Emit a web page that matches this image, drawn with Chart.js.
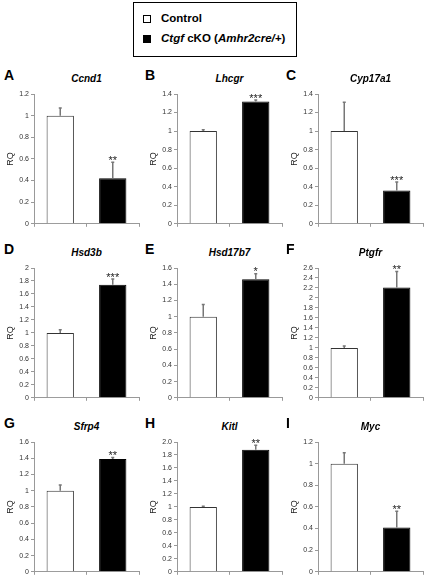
<!DOCTYPE html>
<html>
<head>
<meta charset="utf-8">
<script src="https://cdn.jsdelivr.net/npm/chart.js@4/dist/chart.umd.min.js"></script>
<style>
  html, body { margin: 0; padding: 0; background: #fff; }
  #wrap { position: relative; width: 427px; height: 579px; overflow: hidden; font-family: "Liberation Sans", Arial, sans-serif; }
  canvas { position: absolute; }
  .letter { position: absolute; font: bold 14px "Liberation Sans", Arial, sans-serif; color: #000; line-height: 16px; }
  .gene { position: absolute; font: italic bold 10px "Liberation Sans", Arial, sans-serif; color: #000; line-height: 12px; width: 105px; text-align: center; }
  #legend { position: absolute; left: 133px; top: 2px; width: 162px; height: 53px; border: 1.5px solid #000; }
  .li { position: absolute; left: 9px; font: bold 11.5px "Liberation Sans", Arial, sans-serif; line-height: 13px; white-space: nowrap; }
  .sw { display: inline-block; width: 8px; height: 8px; border: 1px solid #000; vertical-align: -1px; margin-right: 10px; box-sizing: border-box; }
</style>
</head>
<body>
<div id="wrap">
  <div id="legend">
    <div class="li" style="top:9px"><span class="sw" style="background:#fff"></span>Control</div>
    <div class="li" style="top:29px"><span class="sw" style="background:#000"></span><i>Ctgf</i> cKO (<i>Amhr2cre/+</i>)</div>
  </div>
</div>
<script>
// ---- data ----
const panelLetters = ['A', 'B', 'C', 'D', 'E', 'F', 'G', 'H', 'I'];
const genes = ['Ccnd1', 'Lhcgr', 'Cyp17a1', 'Hsd3b', 'Hsd17b7', 'Ptgfr', 'Sfrp4', 'Kitl', 'Myc'];
const categories = ['Control', 'Ctgf cKO (Amhr2cre/+)'];
const controlRQ = [1.0, 1.0, 1.0, 1.0, 1.0, 1.0, 1.0, 1.0, 1.0];
const controlErr = [0.07, 0.015, 0.31, 0.05, 0.15, 0.04, 0.07, 0.01, 0.10];
const ckoRQ = [0.42, 1.32, 0.36, 1.74, 1.46, 2.21, 1.39, 1.88, 0.41];
const ckoErr = [0.15, 0.015, 0.09, 0.09, 0.07, 0.32, 0.02, 0.07, 0.15];
const significance = ['**', '***', '***', '***', '*', '**', '**', '**', '**'];
const yMax = [1.2, 1.4, 1.4, 2.0, 1.6, 2.6, 1.6, 2.0, 1.2];
const yTickLabels = [
  ['0', '0.2', '0.4', '0.6', '0.8', '1', '1.2'],
  ['0', '0.2', '0.4', '0.6', '0.8', '1', '1.2', '1.4'],
  ['0', '0.2', '0.4', '0.6', '0.8', '1', '1.2', '1.4'],
  ['0', '0.2', '0.4', '0.6', '0.8', '1', '1.2', '1.4', '1.6', '1.8', '2'],
  ['0', '0.2', '0.4', '0.6', '0.8', '1', '1.2', '1.4', '1.6'],
  ['0', '0.2', '0.4', '0.6', '0.8', '1', '1.2', '1.4', '1.6', '1.8', '2', '2.2', '2.4', '2.6'],
  ['0', '0.2', '0.4', '0.6', '0.8', '1', '1.2', '1.4', '1.6'],
  ['0', '0.2', '0.4', '0.6', '0.8', '1', '1.2', '1.4', '1.6', '1.8', '2.0'],
  ['0', '0.2', '0.4', '0.6', '0.8', '1', '1.2']
];
const yStep = 0.2;

// ---- layout ----
const colLeft = [0, 143, 284];
const rowChartTop = [94, 268, 442];
const padTop = 10, yAxisW = 34, plotW = 105, plotH = 131, xAxisH = 5, padRight = 3;
const letterX = [4, 145, 286];

const errorBarPlugin = {
  id: 'errorBars',
  afterDatasetsDraw(chart, args, opts) {
    const ctx = chart.ctx;
    const meta = chart.getDatasetMeta(0);
    const ys = chart.scales.y;
    const vals = chart.data.datasets[0].data;
    const errs = opts.errors;
    ctx.save();
    meta.data.forEach((bar, i) => {
      const top = ys.getPixelForValue(vals[i] + errs[i]);
      ctx.strokeStyle = '#777';
      ctx.lineWidth = 1.5;
      ctx.beginPath();
      ctx.moveTo(bar.x, bar.y);
      ctx.lineTo(bar.x, top);
      ctx.moveTo(bar.x - 1.5, top);
      ctx.lineTo(bar.x + 1.5, top);
      ctx.stroke();
      if (i === 1 && opts.stars) {
        ctx.fillStyle = '#222';
        ctx.font = '11px "Liberation Sans", Arial, sans-serif';
        ctx.textAlign = 'center';
        ctx.textBaseline = 'bottom';
        ctx.fillText(opts.stars, bar.x, top + 4);
      }
    });
    ctx.restore();
  }
};

const wrap = document.getElementById('wrap');
for (let p = 0; p < 9; p++) {
  const c = p % 3, r = Math.floor(p / 3);
  const left = colLeft[c], chartTop = rowChartTop[r];

  const L = document.createElement('div');
  L.className = 'letter';
  L.style.left = letterX[c] + 'px';
  L.style.top = (chartTop - 27) + 'px';
  L.textContent = panelLetters[p];
  wrap.appendChild(L);

  const G = document.createElement('div');
  G.className = 'gene';
  G.style.left = (left + yAxisW) + 'px';
  G.style.top = (chartTop - 21) + 'px';
  G.textContent = genes[p];
  wrap.appendChild(G);

  const cv = document.createElement('canvas');
  const W = yAxisW + plotW + padRight, H = padTop + plotH + xAxisH;
  cv.width = W; cv.height = H;
  cv.style.left = left + 'px';
  cv.style.top = (chartTop - padTop) + 'px';
  cv.style.width = W + 'px'; cv.style.height = H + 'px';
  wrap.appendChild(cv);

  const labels = yTickLabels[p];
  new Chart(cv, {
    type: 'bar',
    data: {
      labels: categories,
      datasets: [{
        data: [controlRQ[p], ckoRQ[p]],
        backgroundColor: ['#ffffff', '#000000'],
        borderColor: ['#333333', '#000000'],
        borderWidth: 1,
        borderSkipped: 'bottom',
        barPercentage: 0.52,
        categoryPercentage: 1.0
      }]
    },
    options: {
      responsive: false,
      animation: false,
      devicePixelRatio: 1,
      layout: { padding: { top: padTop, right: padRight, left: 0, bottom: 0 } },
      plugins: {
        legend: { display: false },
        tooltip: { enabled: false },
        title: { display: false },
        errorBars: { errors: [controlErr[p], ckoErr[p]], stars: significance[p] }
      },
      scales: {
        x: {
          grid: { display: true, drawOnChartArea: false, drawTicks: true, tickLength: 3, color: '#999', offset: true },
          border: { display: true, color: '#999', width: 1 },
          ticks: { display: false },
          afterFit(s) { s.height = xAxisH; }
        },
        y: {
          min: 0, max: yMax[p],
          grid: { display: true, drawOnChartArea: false, drawTicks: true, tickLength: 3, color: '#999' },
          border: { display: true, color: '#999', width: 1 },
          ticks: {
            stepSize: yStep, autoSkip: false, padding: 2,
            color: '#333',
            font: { family: '"Liberation Sans", Arial, sans-serif', size: 7 },
            callback: (v, i) => labels[i]
          },
          title: {
            display: true, text: 'RQ', color: '#222',
            font: { family: '"Liberation Sans", Arial, sans-serif', size: 9 },
            padding: { top: 5, bottom: 0 }
          },
          afterFit(s) { s.width = yAxisW; }
        }
      }
    },
    plugins: [errorBarPlugin]
  });
}
</script>
</body>
</html>
